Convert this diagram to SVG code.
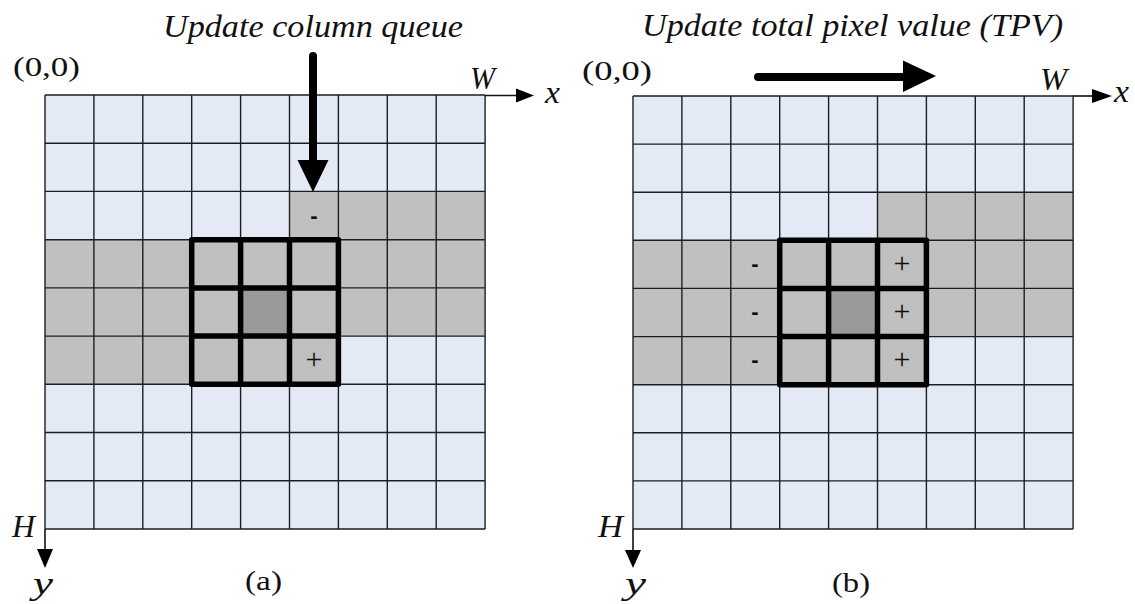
<svg xmlns="http://www.w3.org/2000/svg" width="1135" height="604" viewBox="0 0 1135 604">
<style>
.bg{fill:#ffffff}
.lt{fill:#E3E9F5}
.gr{fill:#C0C0C0}
.dk{fill:#9A9A9A}
.grid{fill:none;stroke:#1e1e1e;stroke-width:1.4}
.bold{fill:none;stroke:#000;stroke-width:5.5;stroke-linejoin:round}
.lbl{font-family:'Times New Roman','Liberation Serif',Tinos,serif;font-style:italic;font-size:32px;fill:#111}
.up{font-family:'Times New Roman','Liberation Serif',Tinos,serif;font-size:28px;fill:#111}
.sign{font-family:'Times New Roman','Liberation Serif',Tinos,serif;font-size:30px;fill:#111;text-anchor:middle}
.minus{font-family:'Liberation Sans',Arial,sans-serif;font-weight:bold;font-size:22px;fill:#111;text-anchor:middle}
.ax{stroke:#111;stroke-width:1.6;fill:none}
.ah{fill:#000}
.big{stroke:#000;stroke-width:8;fill:none;stroke-linecap:round}
</style>
<rect class="bg" x="0" y="0" width="1135" height="604"/>

<g id="panel-a">
  <rect class="lt" x="45" y="95" width="440" height="434"/>
  <rect class="gr" x="289.5" y="191.4" width="195.6" height="48.3"/>
  <rect class="gr" x="45" y="239.7" width="440.1" height="96.4"/>
  <rect class="gr" x="45" y="336.1" width="293.4" height="48.2"/>
  <rect class="dk" x="240.6" y="287.9" width="48.9" height="48.2"/>
  <path class="grid" d="M45,95V529M93.9,95V529M142.8,95V529M191.7,95V529M240.6,95V529M289.5,95V529M338.4,95V529M387.3,95V529M436.2,95V529M485.1,95V529M45,95H485.1M45,143.2H485.1M45,191.4H485.1M45,239.7H485.1M45,287.9H485.1M45,336.1H485.1M45,384.3H485.1M45,432.5H485.1M45,480.8H485.1M45,529H485.1"/>
  <path class="bold" d="M191.7,239.7H338.4V384.3H191.7ZM240.6,239.7V384.3M289.5,239.7V384.3M191.7,287.9H338.4M191.7,336.1H338.4"/>
  <text class="minus" x="314" y="223">-</text>
  <text class="sign" x="314" y="369">+</text>
  <text class="up" x="13" y="76" textLength="67" lengthAdjust="spacingAndGlyphs">(0,0)</text>
  <text class="lbl" x="470" y="89" textLength="25" lengthAdjust="spacingAndGlyphs">W</text>
  <text class="lbl" x="545" y="103" textLength="15" lengthAdjust="spacingAndGlyphs">x</text>
  <text class="lbl" x="12" y="537" textLength="23" lengthAdjust="spacingAndGlyphs">H</text>
  <text class="lbl" x="33" y="594" textLength="20" lengthAdjust="spacingAndGlyphs">y</text>
  <text class="up" x="245" y="590" textLength="37" lengthAdjust="spacingAndGlyphs">(a)</text>
  <text class="lbl" x="163" y="37" textLength="300" lengthAdjust="spacingAndGlyphs">Update column queue</text>
</g>

<g id="panel-b">
  <rect class="lt" x="633" y="96" width="440" height="433"/>
  <rect class="gr" x="877.5" y="192.2" width="195.6" height="48.1"/>
  <rect class="gr" x="633" y="240.3" width="440.1" height="96.3"/>
  <rect class="gr" x="633" y="336.6" width="293.4" height="48.1"/>
  <rect class="dk" x="828.6" y="288.4" width="48.9" height="48.2"/>
  <path class="grid" d="M633,96V529M681.9,96V529M730.8,96V529M779.7,96V529M828.6,96V529M877.5,96V529M926.4,96V529M975.3,96V529M1024.2,96V529M1073.1,96V529M633,96H1073.1M633,144.1H1073.1M633,192.2H1073.1M633,240.3H1073.1M633,288.4H1073.1M633,336.6H1073.1M633,384.7H1073.1M633,432.8H1073.1M633,480.9H1073.1M633,529H1073.1"/>
  <path class="bold" d="M779.7,240.3H926.4V384.7H779.7ZM828.6,240.3V384.7M877.5,240.3V384.7M779.7,288.4H926.4M779.7,336.6H926.4"/>
  <text class="minus" x="755" y="271">-</text>
  <text class="minus" x="755" y="319">-</text>
  <text class="minus" x="755" y="367">-</text>
  <text class="sign" x="902" y="273">+</text>
  <text class="sign" x="902" y="321">+</text>
  <text class="sign" x="902" y="369">+</text>
  <text class="up" x="582" y="80" textLength="70" lengthAdjust="spacingAndGlyphs">(0,0)</text>
  <text class="lbl" x="1040" y="90" textLength="27" lengthAdjust="spacingAndGlyphs">W</text>
  <text class="lbl" x="1114" y="102" textLength="15" lengthAdjust="spacingAndGlyphs">x</text>
  <text class="lbl" x="598" y="537" textLength="25" lengthAdjust="spacingAndGlyphs">H</text>
  <text class="lbl" x="625" y="594" textLength="21" lengthAdjust="spacingAndGlyphs">y</text>
  <text class="up" x="832" y="592" textLength="38" lengthAdjust="spacingAndGlyphs">(b)</text>
  <text class="lbl" x="642" y="36" textLength="421" lengthAdjust="spacingAndGlyphs">Update total pixel value (TPV)</text>
</g>

<g id="connectors">
  <line class="ax" x1="485" y1="95.5" x2="520" y2="95.5"/>
  <polygon class="ah" points="516,88.5 516,102.5 534,95.5"/>
  <line class="ax" x1="45" y1="529" x2="45" y2="552"/>
  <polygon class="ah" points="37,549 53,549 45,568"/>
  <line class="ax" x1="1073" y1="96" x2="1095" y2="96"/>
  <polygon class="ah" points="1092,89 1092,103 1112,96"/>
  <line class="ax" x1="633" y1="529" x2="633" y2="552"/>
  <polygon class="ah" points="625,550 641,550 633,568"/>
  <line class="big" x1="313" y1="56" x2="313" y2="165"/>
  <polygon class="ah" points="297.5,160 328.5,160 313,192"/>
  <line class="big" x1="758" y1="77" x2="906" y2="77"/>
  <polygon class="ah" points="903,60.5 903,92 936,76"/>
</g>
</svg>
